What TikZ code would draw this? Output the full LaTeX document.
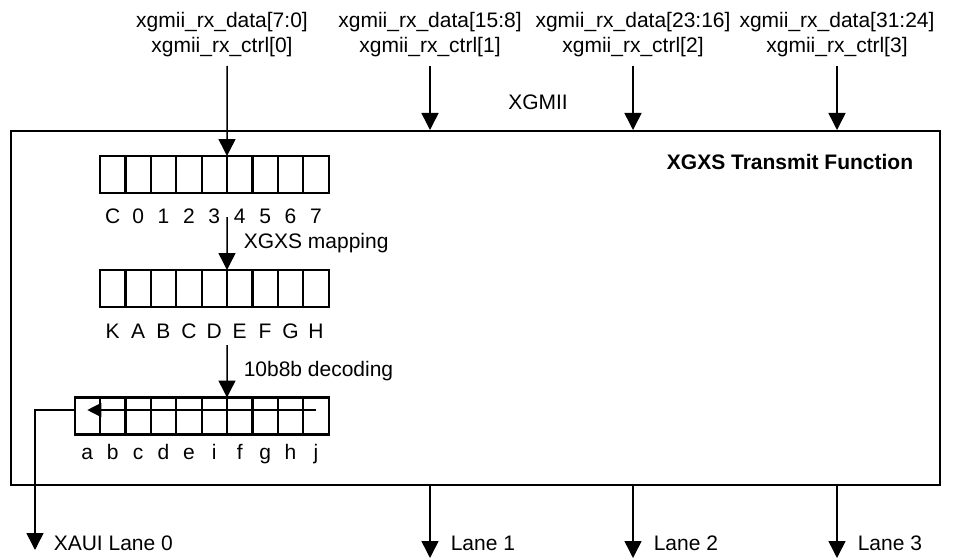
\documentclass[tikz,border=0pt]{standalone}
\usepackage{fontspec}
\setmainfont{Liberation Sans}
\usetikzlibrary{arrows.meta, positioning}

\begin{document}
\fontsize{21}{25}\selectfont
\begin{tikzpicture}[x=1pt, y=-1pt, ->, >={Triangle[length=17pt,width=17pt]}, line width=1.5pt,
  cell/.style={draw, line width=2.2pt, minimum width=25.4pt, minimum height=37pt, inner sep=0pt, outer sep=0pt},
  bit/.style={inner sep=0pt, text height=15pt, text depth=0pt}]
 \useasboundingbox (0,0) rectangle (963,559);
 % transmit block
 \node[draw, line width=2pt, minimum width=929pt, minimum height=354pt, inner sep=0pt] (xgxs) at (475.5,308) {};
 \node[font=\bfseries] (title) at (790,162) {XGXS Transmit Function};

 % registers
 \foreach \k in {1,...,9} {
   \node[cell] (r1-\k) at ({87.3+25.4*\k},174.5) {};
   \node[cell] (r2-\k) at ({87.3+25.4*\k},288.5) {};
 }
 \foreach \k in {0,...,9}
   \node[cell] (r3-\k) at ({87.3+25.4*\k},416) {};

 \foreach \t [count=\k] in {C,0,1,2,3,4,5,6,7}
   \node[bit, below=15pt of r1-\k] {\t};
 \foreach \t [count=\k] in {K,A,B,C,D,E,F,G,H}
   \node[bit, below=16pt of r2-\k] {\t};
 \foreach \t [count=\k from 0] in {a,b,c,d,e,i,f,g,h,j}
   \node[bit, below=9pt of r3-\k] {\t};

 % XGMII inputs
 \node[align=center, inner sep=0pt] (in0) at (222,35) {xgmii\_rx\_data[7:0]\\xgmii\_rx\_ctrl[0]};
 \node[align=center, inner sep=0pt] (in1) at (430,35) {xgmii\_rx\_data[15:8]\\xgmii\_rx\_ctrl[1]};
 \node[align=center, inner sep=0pt] (in2) at (633,35) {xgmii\_rx\_data[23:16]\\xgmii\_rx\_ctrl[2]};
 \node[align=center, inner sep=0pt] (in3) at (837,35) {xgmii\_rx\_data[31:24]\\xgmii\_rx\_ctrl[3]};
 \node (xgmii) at (538,102) {XGMII};

 \coordinate (c0) at (227,66);
 \coordinate (c1) at (430,66);
 \coordinate (c2) at (633,66);
 \coordinate (c3) at (837,66);
 \draw (c0) -- (r1-6.north west);
 \foreach \i in {1,2,3}
   \draw (c\i) -- (c\i |- xgxs.north);

 % mapping and decoding
 \coordinate (m0) at (227,217);
 \coordinate (m1) at (227,345);
 \draw (m0) -- node[right=16pt, inner sep=0pt] {XGXS mapping} (r2-6.north west);
 \draw (m1) -- node[right=16pt, inner sep=0pt] {10b8b decoding} (r3-6.north west);
 \draw[>={Triangle[length=14pt,width=14pt]}] ([yshift=6pt]r3-9.center) -- ([yshift=6pt]r3-0.center);

 % XAUI lanes
 \coordinate (l0) at (35,550);
 \coordinate (l1) at (430,558);
 \coordinate (l2) at (633,558);
 \coordinate (l3) at (837,558);
 \draw ([yshift=6pt]r3-0.west) -| (l0);
 \node[anchor=west, inner sep=0pt] (n0) at ([xshift=18pt, yshift=7pt]l0) {XAUI Lane 0};
 \foreach \i in {1,2,3} {
   \draw (l\i |- xgxs.south) -- (l\i);
   \node[anchor=west, inner sep=0pt] (n\i) at ([xshift=20pt, yshift=15pt]l\i) {Lane \i};
 }
\end{tikzpicture}
\end{document}
